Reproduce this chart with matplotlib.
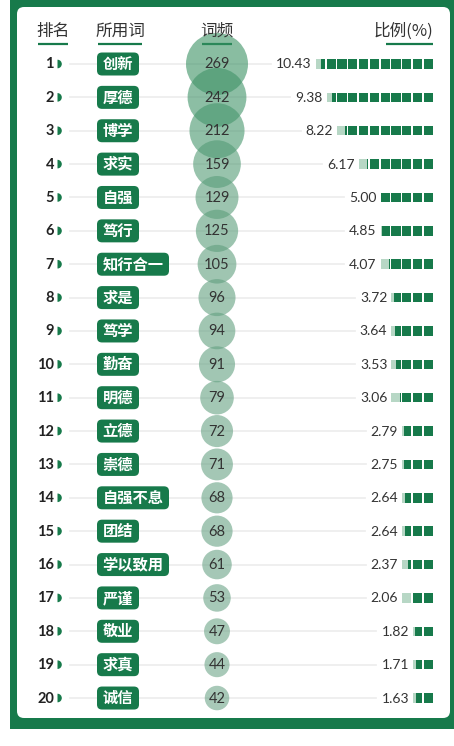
import matplotlib
matplotlib.use('Agg')
import matplotlib.pyplot as plt
from matplotlib.patches import Rectangle, FancyBboxPatch, Circle, Wedge
import numpy as np

plt.rcParams['font.family'] = ['Noto Sans CJK SC', 'DejaVu Sans']

ranks = list(range(1, 21))
words = ['创新', '厚德', '博学', '求实', '自强', '笃行', '知行合一', '求是', '笃学', '勤奋',
         '明德', '立德', '崇德', '自强不息', '团结', '学以致用', '严谨', '敬业', '求真', '诚信']
counts = [269, 242, 212, 159, 129, 125, 105, 96, 94, 91,
          79, 72, 71, 68, 68, 61, 53, 47, 44, 42]
percents = [10.43, 9.38, 8.22, 6.17, 5.00, 4.85, 4.07, 3.72, 3.64, 3.53,
            3.06, 2.79, 2.75, 2.64, 2.64, 2.37, 2.06, 1.82, 1.71, 1.63]
headers = ['排名', '所用词', '词频', '比例(%)']

GREEN = '#177a4b'
LIGHT = '#b7d7c5'
TXT = '#333333'

W, H = 454, 746
fig = plt.figure(figsize=(W / 100, H / 100), dpi=100)
ax = fig.add_axes([0, 0, 1, 1])
ax.set_xlim(0, W)
ax.set_ylim(H, 0)
ax.axis('off')

# frame + white panel
ax.add_patch(Rectangle((10, 0), W - 10, 729, facecolor=GREEN, edgecolor='none', zorder=0))
ax.add_patch(FancyBboxPatch((17, 7), 433, 711, boxstyle='round,pad=0,rounding_size=7',
                            facecolor='white', edgecolor='none', zorder=0.5))

# headers
hy = 31
ax.text(53, hy, headers[0], ha='center', va='center', fontsize=12, color=TXT)
ax.text(120, hy, headers[1], ha='center', va='center', fontsize=12, color=TXT)
ax.text(217, hy, headers[2], ha='center', va='center', fontsize=12, color=TXT)
ax.text(433, hy, headers[3], ha='right', va='center', fontsize=12, color=TXT)
for x0, x1 in [(38, 68), (98, 142), (202, 232), (386, 433)]:
    ax.plot([x0, x1], [43.5, 43.5], color=GREEN, lw=1.6, solid_capstyle='butt', zorder=2)

y0, step = 64, 33.37
bar_right, pitch, bw, bh = 433, 10.8, 9.3, 9.5
k = 1.89
cmin, cmax = min(counts), max(counts)
c_small = np.array([110, 165, 137]) / 255
c_big = np.array([58, 145, 99]) / 255

pct_texts = []
for i in range(len(ranks)):
    y = y0 + i * step
    # rank + marker
    ax.text(54, y + 0.5, str(ranks[i]), ha='right', va='center', fontsize=10.5,
            fontweight='bold', color='#222222', family=['Lato', 'DejaVu Sans'], zorder=3)
    ax.add_patch(Wedge((57.5, y), 4.3, -90, 90, facecolor=GREEN, edgecolor='none', zorder=3))

    # word box
    wbox = 15 * len(words[i]) + 12
    ax.add_patch(FancyBboxPatch((97, y - 11.5), wbox, 23,
                                boxstyle='round,pad=0,rounding_size=5',
                                facecolor=GREEN, edgecolor='none', zorder=3))
    ax.text(97 + wbox / 2, y, words[i], ha='center', va='center', fontsize=11,
            fontweight='bold', color='white', zorder=4)

    # bubble
    t = (counts[i] - cmin) / (cmax - cmin)
    col = c_small + (c_big - c_small) * t
    ax.add_patch(Circle((217, y), k * np.sqrt(counts[i]), facecolor=col, alpha=0.6,
                        edgecolor='none', zorder=2))
    ax.text(217, y + 0.5, str(counts[i]), ha='center', va='center', fontsize=10.5,
            color=TXT, family=['Lato', 'DejaVu Sans'], zorder=4)

    # blocks
    p = percents[i]
    n_full = int(np.floor(p + 1e-9))
    frac = p - n_full
    for j in range(n_full):
        xr = bar_right - j * pitch
        ax.add_patch(Rectangle((xr - bw, y - bh / 2), bw, bh, facecolor=GREEN,
                               edgecolor='none', zorder=3))
    left = bar_right - (n_full - 1) * pitch - bw
    if frac > 0.005:
        xr = bar_right - n_full * pitch
        ax.add_patch(Rectangle((xr - bw, y - bh / 2), bw, bh, facecolor=LIGHT,
                               edgecolor='none', zorder=3))
        ax.add_patch(Rectangle((xr - bw * frac, y - bh / 2), bw * frac, bh,
                               facecolor=GREEN, edgecolor='none', zorder=3))
        left = xr - bw
    tx = ax.text(left - 4, y + 0.5, '%.2f' % p, ha='right', va='center', fontsize=10,
                 color=TXT, family=['Lato', 'DejaVu Sans'], zorder=4)
    pct_texts.append(tx)

# guide lines end just before the percentage labels
fig.canvas.draw()
inv = ax.transData.inverted()
for i, tx in enumerate(pct_texts):
    bb = tx.get_window_extent()
    xend = inv.transform((bb.x0, bb.y0))[0] - 5
    y = y0 + i * step
    ax.plot([70, xend], [y, y], color='#eeeeee', lw=1.3, zorder=1)

fig.savefig('out.png', dpi=100)
